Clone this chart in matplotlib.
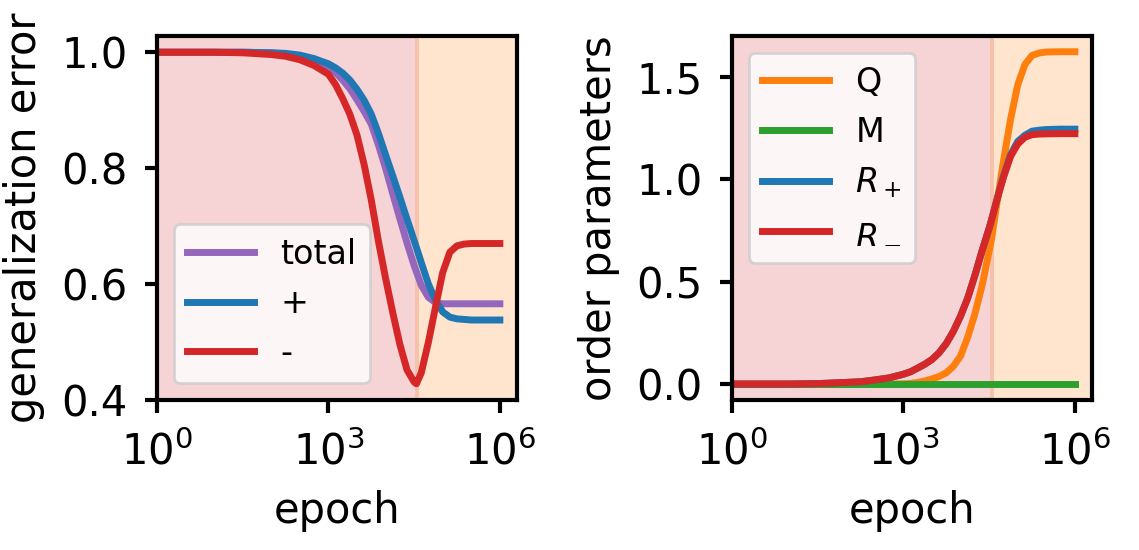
import numpy as np
import matplotlib
matplotlib.use("Agg")
import matplotlib.pyplot as plt
from matplotlib.ticker import NullLocator

epochs = [1, 10, 32, 100, 178, 316, 562, 1000, 1334, 1778, 2371, 3162, 4217,
          5623, 7499, 10000, 13335, 17783, 23714, 31623, 34674, 42170, 56234,
          74989, 100000, 133352, 177828, 237137, 316228, 562341, 1000000]

# generalization error
err_total = [1.0, 1.0, 1.0, 0.999, 0.997, 0.994, 0.986, 0.975, 0.965, 0.952, 0.937,
             0.918, 0.898, 0.876, 0.84, 0.80, 0.756, 0.713, 0.671, 0.632, 0.621,
             0.598, 0.577, 0.568, 0.566, 0.566, 0.566, 0.566, 0.566, 0.566, 0.566]
err_plus = [1.0, 1.0, 1.0, 0.999, 0.998, 0.995, 0.989, 0.98, 0.973, 0.964, 0.952,
            0.936, 0.917, 0.893, 0.86, 0.823, 0.787, 0.75, 0.712, 0.675, 0.663,
            0.637, 0.60, 0.572, 0.552, 0.543, 0.540, 0.539, 0.538, 0.538, 0.538]
err_minus = [1.0, 1.0, 0.999, 0.996, 0.993, 0.987, 0.977, 0.962, 0.944, 0.92, 0.893,
             0.857, 0.806, 0.745, 0.674, 0.61, 0.551, 0.496, 0.452, 0.431, 0.428,
             0.447, 0.50, 0.561, 0.62, 0.655, 0.666, 0.669, 0.670, 0.670, 0.670]

# order parameters
Q = [0, 0, 0, 0, 0, 0, 0, 0.001, 0.003, 0.008, 0.015, 0.025, 0.037, 0.055, 0.087,
     0.137, 0.229, 0.342, 0.479, 0.65, 0.705, 0.863, 1.088, 1.293, 1.461, 1.56,
     1.605, 1.617, 1.622, 1.623, 1.623]
M = [0.0] * len(epochs)
R_plus = [0, 0, 0.002, 0.008, 0.011, 0.02, 0.03, 0.048, 0.06, 0.078, 0.097, 0.12,
          0.153, 0.198, 0.258, 0.332, 0.42, 0.53, 0.65, 0.761, 0.80, 0.89, 1.015,
          1.12, 1.185, 1.215, 1.235, 1.240, 1.243, 1.245, 1.245]
R_minus = [0, 0, 0.002, 0.008, 0.011, 0.02, 0.03, 0.048, 0.06, 0.078, 0.097, 0.12,
           0.153, 0.198, 0.258, 0.332, 0.42, 0.53, 0.65, 0.761, 0.80, 0.888, 1.009,
           1.112, 1.172, 1.205, 1.218, 1.221, 1.222, 1.223, 1.223]

# phase boundaries (red phase, then orange phase)
phase1_end = 10 ** 4.59
phase2_start = 10 ** 4.51

plt.rcParams['font.size'] = 15
plt.rcParams['axes.linewidth'] = 1.5
plt.rcParams['xtick.major.width'] = 1.5
plt.rcParams['ytick.major.width'] = 1.5
plt.rcParams['xtick.major.size'] = 4.5
plt.rcParams['ytick.major.size'] = 4.5
plt.rcParams['xtick.major.pad'] = 6.5
plt.rcParams['ytick.major.pad'] = 6
plt.rcParams['axes.labelpad'] = 6
plt.rcParams['legend.fontsize'] = 12

fig = plt.figure(figsize=(1139 / 200, 550 / 200), dpi=200)
ax1 = fig.add_axes([157 / 1139, 150 / 550, 360 / 1139, 364 / 550])
ax2 = fig.add_axes([732 / 1139, 150 / 550, 360 / 1139, 364 / 550])

for ax in (ax1, ax2):
    ax.axvspan(0.1, phase1_end, color='tab:red', alpha=0.2, lw=0)
    ax.axvspan(phase2_start, 1e8, color='tab:orange', alpha=0.2, lw=0)

ax1.plot(epochs, err_total, color='tab:purple', lw=2.5, label='total')
ax1.plot(epochs, err_plus, color='tab:blue', lw=2.5, label='+')
ax1.plot(epochs, err_minus, color='tab:red', lw=2.5, label='-')
ax1.set_ylabel('generalization error')
ax1.set_yticks([0.4, 0.6, 0.8, 1.0])
ax1.legend(loc='lower left')

ax2.plot(epochs, Q, color='tab:orange', lw=2.5, label='Q')
ax2.plot(epochs, M, color='tab:green', lw=2.5, label='M')
ax2.plot(epochs, R_plus, color='tab:blue', lw=2.5, label=r'$R_+$')
ax2.plot(epochs, R_minus, color='tab:red', lw=2.5, label=r'$R_-$')
ax2.set_ylabel('order parameters')
ax2.set_yticks([0.0, 0.5, 1.0, 1.5])
ax2.legend(loc='upper left')

for ax in (ax1, ax2):
    ax.set_xscale('log')
    ax.set_xlim(1, 10 ** 6.3)
    ax.set_xticks([1, 1e3, 1e6])
    ax.xaxis.set_minor_locator(NullLocator())
    ax.set_xlabel('epoch')

ax1.set_ylim(0.4, 1.028)
ax2.set_ylim(-0.078, 1.70)

fig.savefig('out.png', dpi=200)
